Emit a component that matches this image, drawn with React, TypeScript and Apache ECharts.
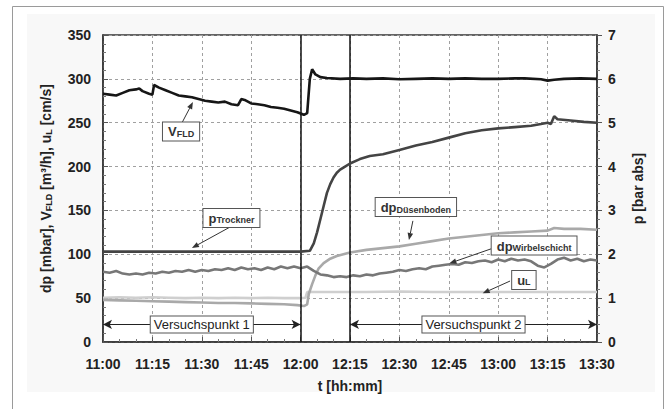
import React, { useEffect, useRef } from "react";
import * as echarts from "echarts";

// time in minutes after 11:00
const xTicks = [0, 15, 30, 45, 60, 75, 90, 105, 120, 135, 150];

const vFLD: [number, number][] = [
  [0, 283], [2, 282], [4, 281], [6, 284], [8, 287], [10, 288], [11, 289], [12, 286], [14, 283], [15, 282],
  [15.5, 293], [17, 290], [19, 287], [21, 284], [23, 281], [25, 280], [27, 279], [29, 277], [31, 275],
  [33, 274], [35, 273], [37, 274], [39, 271], [41, 270], [42, 277], [43, 276], [45, 272], [47, 271],
  [49, 270], [51, 268], [53, 267], [55, 266], [57, 264], [59, 262], [61, 259], [62, 261], [62.8, 300],
  [63.5, 311], [64.5, 305], [66, 302], [68, 301], [72, 300], [76, 300.5], [80, 300], [85, 300.5],
  [90, 299.5], [95, 300], [100, 300.5], [105, 300], [110, 300.5], [115, 300], [120, 300], [125, 300.5],
  [128, 300.5], [133, 299.5], [135, 298], [137, 299], [140, 300], [145, 300.5], [150, 300],
];

const pTrockner: [number, number][] = [
  [0, 2.06], [30, 2.06], [60, 2.06], [62.8, 2.08], [64, 2.25], [65, 2.5], [66, 2.8], [67, 3.1],
  [68, 3.4], [69, 3.6], [70, 3.75], [71, 3.86], [72, 3.93], [73.5, 4.0], [75, 4.07], [78, 4.17],
  [81, 4.24], [85, 4.28], [90, 4.38], [95, 4.48], [100, 4.56], [105, 4.66], [110, 4.76], [115, 4.83],
  [120, 4.87], [125, 4.9], [130, 4.93], [133, 4.97], [135, 5.0], [136, 4.97], [137, 5.15], [138, 5.08],
  [142, 5.05], [146, 5.02], [150, 5.0],
];

const dpDuesenboden: [number, number][] = [
  [0, 48], [5, 47.5], [10, 47], [15, 46.5], [20, 46], [25, 45.5], [30, 45], [35, 44.5], [40, 44.5],
  [45, 44], [50, 43.5], [55, 43], [59, 42], [61, 41], [62, 43], [62.5, 55], [63.5, 66], [64.5, 76],
  [65.5, 84], [67, 90], [69, 95], [71, 98], [73, 100], [75, 102], [80, 105], [85, 107], [90, 109],
  [95, 112], [100, 115], [105, 118], [110, 120], [115, 122], [120, 124], [125, 125], [130, 126],
  [135, 127], [137, 130], [140, 129], [145, 129], [150, 128],
];

const dpWirbelschicht: [number, number][] = [
  [0, 80], [2, 79], [4, 81], [6, 78], [8, 77], [10, 78], [12, 77], [14, 79], [16, 78], [18, 80],
  [20, 79], [22, 81], [24, 80], [26, 82], [28, 80], [30, 82], [32, 81], [34, 83], [36, 82], [38, 84],
  [40, 82], [42, 85], [44, 83], [46, 84], [48, 82], [50, 85], [52, 83], [54, 86], [56, 84], [58, 86],
  [60, 84], [62, 86], [64, 81], [66, 77], [68, 76], [70, 74], [72, 75], [74, 74], [76, 76], [78, 75],
  [80, 77], [82, 76], [84, 78], [86, 79], [88, 80], [90, 82], [92, 81], [94, 83], [96, 84], [98, 83],
  [100, 86], [102, 87], [104, 88], [106, 89], [108, 88], [110, 91], [112, 90], [114, 92], [116, 93],
  [118, 91], [120, 94], [122, 92], [124, 95], [126, 93], [128, 94], [130, 92], [132, 87], [134, 85],
  [136, 89], [138, 94], [140, 96], [142, 93], [144, 95], [146, 92], [148, 94], [150, 93],
];

const uL: [number, number][] = [
  [0, 50.5], [5, 51], [10, 50.5], [15, 51], [20, 50.5], [25, 50], [30, 50.5], [35, 50], [40, 50.5],
  [45, 50], [50, 50.5], [55, 50], [60, 50], [61.5, 50.5], [62, 57], [70, 57], [80, 57], [90, 57.5],
  [100, 57], [110, 57], [120, 57], [130, 57], [140, 57], [150, 57],
];

const phaseLines = [60, 75];
const phases = [
  { label: "Versuchspunkt 1", from: 0, to: 60 },
  { label: "Versuchspunkt 2", from: 75, to: 150 },
];
const phaseLevel = 20;

const FONT = "'Liberation Sans', Arial, sans-serif";

// annotation anchors in data coordinates (minutes, left-axis units)
const annotations = [
  { main: "V", sub: "FLD", box: [23.7, 240], from: [24, 250], to: [27.3, 273.6] },
  { main: "p", sub: "Trockner", box: [39.0, 141.4], from: [38.6, 131.1], to: [27.0, 107.2] },
  { main: "dp", sub: "Düsenboden", box: [95.0, 153.9], from: [94.1, 138.1], to: [92.9, 116.3] },
  { main: "dp", sub: "Wirbelschicht", box: [130.9, 110.0], from: [118.3, 106.8], to: [105.2, 89.7] },
  { main: "u", sub: "L", box: [127.8, 70.7], from: [123.6, 69.5], to: [115.3, 55.5] },
];

const fmtTime = (v: number) => {
  const t = 11 * 60 + Math.round(v);
  const h = Math.floor(t / 60);
  const m = t % 60;
  return `${h}:${String(m).padStart(2, "0")}`;
};

export default function App() {
  const ref = useRef<HTMLDivElement>(null);
  useEffect(() => {
    if (!ref.current) return;
    const chart = echarts.init(ref.current, undefined, { renderer: "svg" });
    const lineSeries = (name: string, data: [number, number][], color: string, yAxisIndex = 0, z = 2) => ({
      name,
      type: "line",
      data,
      yAxisIndex,
      showSymbol: false,
      symbol: "none",
      z,
      lineStyle: { color, width: 2.6 },
    });
    const option: any = {
      animation: false,
      backgroundColor: "#fff",
      grid: {
        left: 103, top: 35, width: 494, height: 307,
        show: true, borderColor: "#333", borderWidth: 1.5, backgroundColor: "#fff",
      },
      xAxis: {
        type: "value",
        min: 0, max: 150, interval: 15,
        name: "t [hh:mm]",
        nameLocation: "middle",
        nameGap: 37,
        nameTextStyle: { fontFamily: FONT, fontSize: 14, fontWeight: "bold", color: "#222" },
        axisLine: { show: true, lineStyle: { color: "#333", width: 1.5 } },
        axisTick: { show: true, inside: true, length: 5, lineStyle: { color: "#555" } },
        minorTick: { show: true, splitNumber: 3, length: 3, lineStyle: { color: "#777" } },
        axisLabel: { formatter: fmtTime, fontFamily: FONT, fontSize: 14, fontWeight: "bold", color: "#222", margin: 15 },
        splitLine: { show: true, lineStyle: { color: "#a0a0a0", type: [3, 3], width: 1 } },
      },
      yAxis: [
        {
          type: "value",
          min: 0, max: 350, interval: 50,
          name: "{m|dp [mbar], V}{s|FLD}{m| [m³/h], u}{s|L}{m| [cm/s]}",
          nameLocation: "middle",
          nameGap: 50,
          nameRotate: 90,
          nameTextStyle: {
            rich: {
              m: { fontFamily: FONT, fontSize: 14, fontWeight: "bold", color: "#222", lineHeight: 17, verticalAlign: "bottom" },
              s: { fontFamily: FONT, fontSize: 9, fontWeight: "bold", color: "#222", lineHeight: 13, verticalAlign: "bottom" },
            },
          },
          axisLine: { show: true, lineStyle: { color: "#333", width: 1.5 } },
          axisTick: { show: true, inside: true, length: 5, lineStyle: { color: "#555" } },
          minorTick: { show: true, splitNumber: 5, length: 3, lineStyle: { color: "#777" } },
          axisLabel: { fontFamily: FONT, fontSize: 14, fontWeight: "bold", color: "#222", margin: 12 },
          splitLine: { show: true, lineStyle: { color: "#a0a0a0", type: [3, 3], width: 1 } },
        },
        {
          type: "value",
          min: 0, max: 7, interval: 1,
          position: "right",
          name: "p [bar abs]",
          nameLocation: "middle",
          nameGap: 34,
          nameRotate: 90,
          nameTextStyle: { fontFamily: FONT, fontSize: 14, fontWeight: "bold", color: "#222" },
          axisLine: { show: true, lineStyle: { color: "#333", width: 1.5 } },
          axisTick: { show: true, inside: false, length: 5, lineStyle: { color: "#555" } },
          minorTick: { show: true, splitNumber: 5, length: 3, lineStyle: { color: "#777" } },
          axisLabel: { fontFamily: FONT, fontSize: 14, fontWeight: "bold", color: "#222", margin: 11 },
          splitLine: { show: false },
        },
      ],
      series: [
        lineSeries("uL", uL, "#cfcfcf", 0, 2),
        lineSeries("dpDuesenboden", dpDuesenboden, "#a9a9a9", 0, 3),
        lineSeries("dpWirbelschicht", dpWirbelschicht, "#777777", 0, 4),
        lineSeries("pTrockner", pTrockner, "#444444", 1, 5),
        {
          ...lineSeries("vFLD", vFLD, "#161616", 0, 6),
          markLine: {
            silent: true,
            symbol: ["none", "none"],
            label: { show: false },
            lineStyle: { color: "#111", width: 1.5, type: "solid" },
            data: phaseLines.map((x) => ({ xAxis: x })),
          },
        },
        {
          name: "phases",
          type: "line",
          data: [],
          z: 7,
          markLine: {
            silent: true,
            symbol: ["arrow", "arrow"],
            symbolSize: [7, 9],
            label: { show: false },
            lineStyle: { color: "#222", width: 1, type: "solid" },
            data: phases.map((p) => [{ coord: [p.from, phaseLevel] }, { coord: [p.to, phaseLevel] }]),
          },
        },
      ],
    };
    chart.setOption(option);

    const px = (pt: number[]) => chart.convertToPixel({ gridIndex: 0 }, pt) as number[];
    const graphics: any[] = [];
    // outer frame and light background
    graphics.push({
      type: "rect", z: -10, silent: true,
      shape: { x: 27, y: 14, width: 628, height: 378 },
      style: { fill: "#f8f8f8", stroke: "none" },
    });
    graphics.push({
      type: "rect", z: -9, silent: true,
      shape: { x: 12.5, y: 6.5, width: 651, height: 420 },
      style: { fill: "none", stroke: "#9a9a9a", lineWidth: 1 },
    });
    annotations.forEach((a) => {
      const s = px(a.from);
      const t = px(a.to);
      const dx = t[0] - s[0];
      const dy = t[1] - s[1];
      const len = Math.sqrt(dx * dx + dy * dy) || 1;
      const ux = dx / len, uy = dy / len;
      const hl = 7, hw = 2.8;
      const bx = t[0] - ux * hl, by = t[1] - uy * hl;
      graphics.push({
        type: "line", z: 20, silent: true,
        shape: { x1: s[0], y1: s[1], x2: bx, y2: by },
        style: { stroke: "#333", lineWidth: 1 },
      });
      graphics.push({
        type: "polygon", z: 20, silent: true,
        shape: { points: [[t[0], t[1]], [bx - uy * hw, by + ux * hw], [bx + uy * hw, by - ux * hw]] },
        style: { fill: "#333" },
      });
      const c = px(a.box);
      graphics.push({
        type: "text", z: 21, silent: true,
        x: c[0], y: c[1],
        style: {
          text: `{m|${a.main}}{s|${a.sub}}`,
          align: "center",
          verticalAlign: "middle",
          backgroundColor: "#fff",
          borderColor: "#555",
          borderWidth: 1,
          padding: [2, 5, 2, 5],
          rich: {
            m: { fontFamily: FONT, fontSize: 13, fontWeight: "bold", fill: "#333", lineHeight: 14, verticalAlign: "bottom" },
            s: { fontFamily: FONT, fontSize: 9, fontWeight: "bold", fill: "#333", lineHeight: 12, verticalAlign: "bottom" },
          },
        },
      });
    });
    phases.forEach((p) => {
      const c = px([(p.from + p.to) / 2, phaseLevel]);
      graphics.push({
        type: "text", z: 21, silent: true,
        x: c[0], y: c[1],
        style: {
          text: p.label,
          fontFamily: FONT, fontSize: 13, fill: "#222",
          align: "center", verticalAlign: "middle",
          backgroundColor: "#fff", borderColor: "#555", borderWidth: 1,
          padding: [2, 3, 1, 3],
        },
      });
    });
    chart.setOption({ graphic: graphics });
    return () => chart.dispose();
  }, []);
  return <div ref={ref} style={{ position: "absolute", left: 0, top: 0, width: 672, height: 409 }} />;
}
